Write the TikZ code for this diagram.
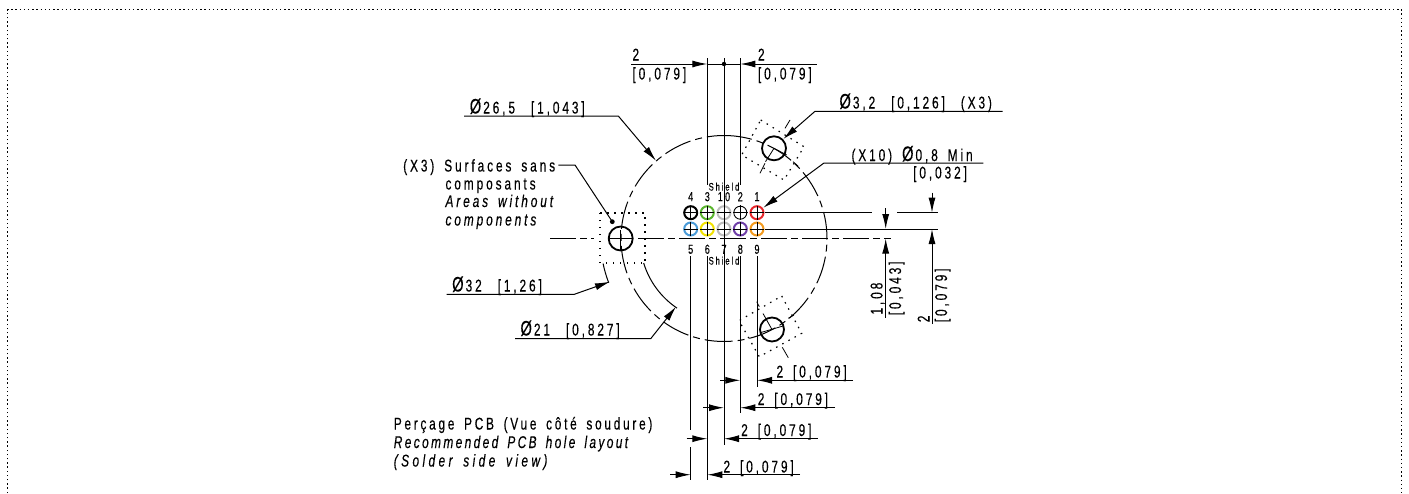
\documentclass[tikz,border=0pt]{standalone}
\usepackage{fontspec}
\setmainfont{Liberation Sans}[FakeStretch=.7,LetterSpace=17,WordSpace=1.6,FakeBold=.25]
\usetikzlibrary{arrows.meta}

\definecolor{hgreen}{HTML}{5AB52E}
\definecolor{hgray}{HTML}{BDBDBD}
\definecolor{hred}{HTML}{E8262B}
\definecolor{hblue}{HTML}{4A9BD8}
\definecolor{hyellow}{HTML}{F2E200}
\definecolor{hpurple}{HTML}{6F3FA8}
\definecolor{horange}{HTML}{F39A1E}

\newcommand{\dia}{{\fontsize{21}{21}\selectfont Ø}\kern2pt}
\newcommand{\wgap}{\hspace{6pt} }

\tikzset{
  hole/.style={circle, draw, line width=2pt, minimum size=13pt, inner sep=0pt},
  mount/.style={circle, draw, line width=1.8pt, minimum size=24pt, inner sep=0pt},
  dimtext/.style={font=\fontsize{17}{17}\selectfont, inner sep=0pt, anchor=base west},
  dimital/.style={font=\fontsize{17}{17}\selectfont\itshape, inner sep=0pt, anchor=base west},
  pinnum/.style={font=\fontsize{13}{13}\selectfont, inner sep=0pt},
  shieldtext/.style={font=\fontsize{11}{11}\selectfont, inner sep=0pt},
  axisline/.style={dash pattern=on 26pt off 4pt on 7pt off 4pt},
  circline/.style={dash pattern=on 28pt off 5pt on 7pt off 5pt},
  keepout/.style={line width=1.2pt, dash pattern=on 1.5pt off 5.5pt},
  thinmark/.style={line width=.8pt},
}

\begin{document}
\begin{tikzpicture}[x=1pt,y=1pt,yscale=-1,>={Latex[length=15pt,width=7pt]},line width=1pt]
  \useasboundingbox (0,0) rectangle (1409,493);
  \draw [line width=.8pt, dash pattern=on 1.4pt off 2.8pt] (7.5,493) -- (7.5,9.5) -- (1401.7,9.5) -- (1401.7,493);

  % pins
  \coordinate (C) at (724,238.5);
  \foreach \name/\xx/\yy/\col in {4/690.7/212.7/black, 3/707.3/212.7/hgreen, 10/724/212.7/hgray, 1/757/212.7/hred,
                                  5/690.7/229/hblue, 6/707.3/229/hyellow, 7/724/229/hgray, 8/740.3/229/hpurple, 9/757/229/horange} {
    \node (p\name) [hole, draw=\col] at (\xx,\yy) {};
    \draw [thinmark] (\xx-7,\yy) -- (\xx+7,\yy) (\xx,\yy-7) -- (\xx,\yy+7);
  }
  \node (p2) [hole, line width=.9pt] at (740.3,212.7) {};
  \draw [thinmark] (732.5,212.7) -- (748,212.7) (740.3,205) -- (740.3,220);
  \node (n4) [pinnum] at (690.7,196.7) {4};
  \node (n3) [pinnum] at (707.3,196.7) {3};
  \node (n10) [pinnum] at (724,196.7) {10};
  \node (n2) [pinnum] at (740.3,196.7) {2};
  \node (n1) [pinnum] at (757,196.7) {1};
  \node (n5) [pinnum] at (690.7,249.3) {5};
  \node (n6) [pinnum] at (707.3,249.3) {6};
  \node (n7) [pinnum] at (724,249.3) {7};
  \node (n8) [pinnum] at (740.3,249.3) {8};
  \node (n9) [pinnum] at (757,249.3) {9};
  \node (s1) [shieldtext] at (724,186.7) {Shield};
  \node (s2) [shieldtext] at (724,260.7) {Shield};

  % mounting holes and circles
  \draw [circline] (724,135.5) arc (-90:270:103);
  \draw [axisline] (550,238.5) -- (594,238.5);
  \draw [axisline] (638,238.5) -- (891,238.5);
  \node (m1) [mount] at (620.7,238.5) {};
  \node (m2) [mount] at (774,148.3) {};
  \node (m3) [mount] at (772,329.5) {};
  \draw [thinmark] (609,238.5) -- (632,238.5) (620.7,230) -- (620.7,250);
  \draw [thinmark] (774,148.3) -- (786.7,155) (765.5,161.7) -- (774,148.3);
  \draw [thinmark] (761,332.5) -- (783,326) (763,313.5) -- (772,329.5);
  \draw [thinmark] (785,128.3) -- (790,120) (760,173.3) -- (765,163.3) (793,161.7) -- (798,166);
  \draw [thinmark] (756.7,301.7) -- (759.3,306.7) (782.3,347.3) -- (788.3,357.7) (788.3,318.3) -- (794,315);
  \draw [keepout] (600,213) -- (645,213) -- (645,263) -- (600,263) -- cycle;
  \draw [keepout] (760.7,120) -- (804,146.7) -- (784,180) -- (741.7,155) -- cycle;
  \draw [keepout] (781.7,296) -- (801.7,333.3) -- (759.3,356.7) -- (739,320.7) -- cycle;
  \draw (C) ++(168.3:123.5) arc (168.3:159:123.5);
  \draw (C) ++(163:84) arc (163:124:84);

  % extension lines
  \draw (707.3,58) -- (707.3,185);
  \draw (724,58) -- (724,445);
  \draw (740.3,58) -- (740.3,185);
  \draw (690.7,256) -- (690.7,430);
  \draw (690.7,447) -- (690.7,480);
  \draw (707.3,256) -- (707.3,480);
  \draw (740.3,256) -- (740.3,413);
  \draw (757,256) -- (757,387);
  \path (p1) edge (872,212.7);
  \draw (897,212.7) -- (938,212.7);
  \path (p9) edge (938,229);

  % top dimensions
  \coordinate (ta) at (707.3,64);
  \coordinate (tb) at (740.3,64);
  \draw [->] (631,64) -- (ta);
  \draw (ta) -- (tb);
  \draw [->] (816.7,64) -- (tb);
  \fill (724,64) circle (2.2pt);
  \node (ta1) [dimtext] at (632,60.5) {2};
  \node (ta2) [dimtext] at (632,79.5) {[0,079]};
  \node (tb1) [dimtext] at (757.5,60.5) {2};
  \node (tb2) [dimtext] at (757.5,79.5) {[0,079]};

  % leaders
  \coordinate (l1) at (783.3,139);
  \draw [->] (1002.7,111.3) -- (815,111.3) -- (l1);
  \node (l1t) [dimtext] at (839,108.5) {\dia 3,2\wgap [0,126]\wgap (X3)};
  \coordinate (l2) at (763.3,207.7);
  \draw [->] (983.3,163) -- (824,163) -- (l2);
  \node (l2t) [dimtext] at (851,161) {(X10) \dia 0,8 Min};
  \node (l2u) [dimtext] at (912.7,178.5) {[0,032]};
  \coordinate (l3) at (656,160.7);
  \draw [->] (464,116) -- (618.3,116) -- (l3);
  \node (l3t) [dimtext] at (469.3,113.5) {\dia 26,5\wgap [1,043]};
  \coordinate (l4) at (612.3,221.7);
  \draw (558.3,165) -- (575,165) -- (l4);
  \fill (l4) circle (2.4pt);
  \node (a1) [dimtext] at (402.7,171.5) {(X3) Surfaces sans};
  \node (a2) [dimtext] at (445,189.5) {composants};
  \node (a3) [dimital] at (445,207) {Areas without};
  \node (a4) [dimital] at (445,225.5) {components};
  \coordinate (l5) at (610,281.7);
  \draw [->] (446.7,294.3) -- (574.3,294.3) -- (l5);
  \node (l5t) [dimtext] at (451.7,291.5) {\dia 32\wgap [1,26]};
  \coordinate (l6) at (676,306.7);
  \draw [->] (515,338.7) -- (650.7,338.7) -- (l6);
  \node (l6t) [dimtext] at (520,335.5) {\dia 21\wgap [0,827]};

  % right dimensions
  \coordinate (ra) at (885.7,229);
  \coordinate (rb) at (885.7,238.5);
  \coordinate (rc) at (932,212.7);
  \coordinate (rd) at (932,229);
  \draw [->] (885.7,208) -- (ra);
  \draw [->] (885.7,317.7) -- (rb);
  \draw [->] (932,192.7) -- (rc);
  \draw [->] (932,324) -- (rd);
  \node (r1) [dimtext, rotate=90] at (882.5,315) {1,08};
  \node (r2) [dimtext, rotate=90] at (901,315.7) {[0,043]};
  \node (r3) [dimtext, rotate=90] at (929.5,322.7) {2};
  \node (r4) [dimtext, rotate=90] at (947,322.7) {[0,079]};

  % bottom dimensions
  \foreach \yy/\xa/\xb/\xs/\xe/\tx/\ty/\nm in {380.3/740.3/757/720/853/776/377.5/d1, 407.7/724/740.3/703.3/835/757.3/405/d2,
                                               438.7/707.3/724/686.7/817.7/740.7/436/d3, 474.7/690.7/707.3/670/800/723/472.5/d4} {
    \coordinate (\nm a) at (\xa,\yy);
    \coordinate (\nm b) at (\xb,\yy);
    \draw [->] (\xs,\yy) -- (\nm a);
    \draw [->] (\xe,\yy) -- (\nm b);
    \node (\nm t) [dimtext] at (\tx,\ty) {2 [0,079]};
  }

  % caption
  \node (c1) [dimtext] at (393.3,429.5) {\addfontfeature{LetterSpace=16}Perçage PCB (Vue côté soudure)};
  \node (c2) [dimital] at (393.3,448) {\addfontfeature{LetterSpace=14}Recommended PCB hole layout};
  \node (c3) [dimital] at (393.3,466.5) {\addfontfeature{LetterSpace=20}(Solder side view)};
\end{tikzpicture}
\end{document}
